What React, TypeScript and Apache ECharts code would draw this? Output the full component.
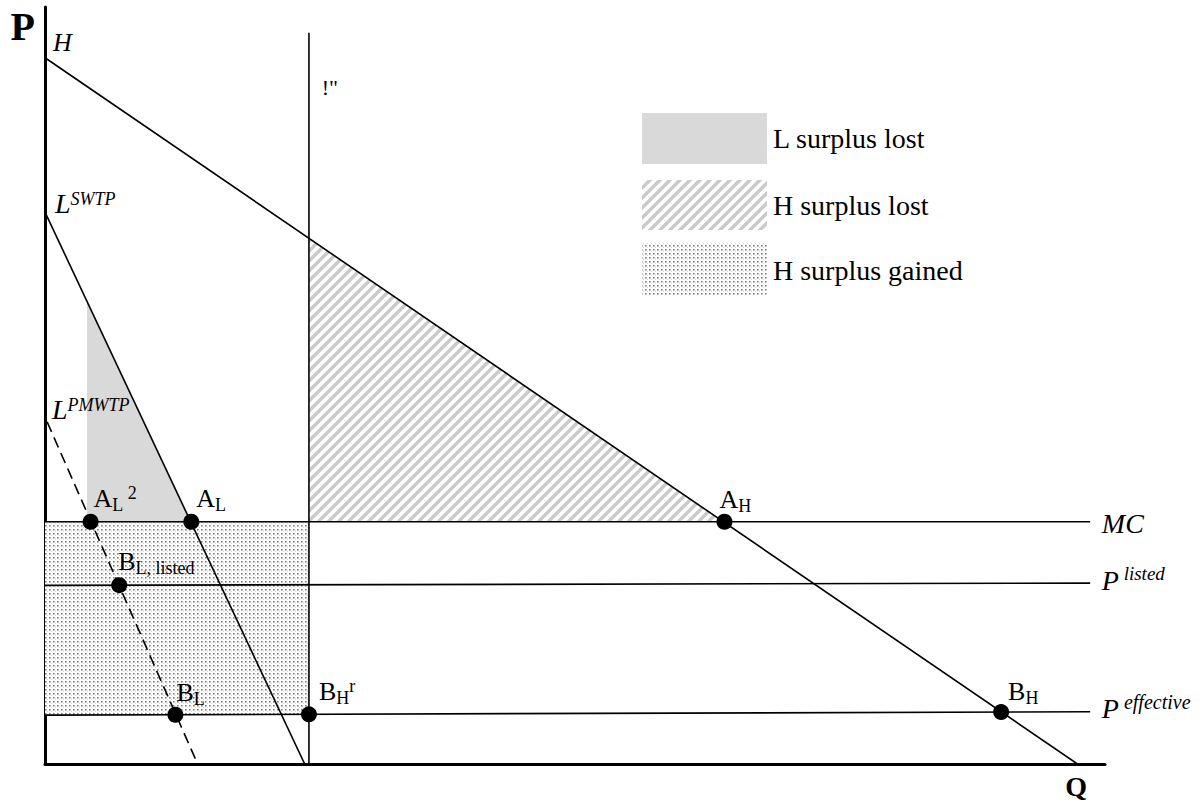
import React, { useEffect, useRef } from 'react';
import * as echarts from 'echarts';

// ---- data (Q on x axis 0..100, P on y axis 0..100) ----
const hDemand = [[0, 93.3], [97.4, 0]];
const lSwtp = [[0, 72.9], [24.5, 0]];
const lPmwtp = [[0.2, 45.2], [14.4, 0]];
const capacityLine = [[24.9, 0], [24.9, 96.6]];
const mcLine = [[0, 32.0], [98.6, 32.0]];
const listedLine = [[0, 23.6], [98.6, 23.9]];
const effectiveLine = [[0, 6.45], [98.6, 6.9]];

const lSurplusLost = [[3.96, 61.1], [3.96, 32.0], [13.8, 32.0]];
const hSurplusLost = [[24.9, 69.45], [24.9, 32.0], [64.1, 32.0]];
const hSurplusGained = [[0, 32.0], [24.9, 32.0], [24.9, 6.56], [0, 6.45]];

const pointValues = [[4.3, 32], [13.8, 32], [64.1, 32], [7.0, 23.62], [12.3, 6.5], [24.9, 6.56], [90.2, 6.86]];
const pointLabels = ['{m|A}{s|L}{p| 2}', '{m|A}{s|L}', '{m|A}{s|H}', '{m|B}{s|L, listed}', '{m|B}{s|L}', '{m|B}{s|H}{p|r}', '{m|B}{s|H}'];

const annotationTexts = ['{h|H}', '{r|!"}', '{L|L}{sup|SWTP}', '{L|L}{sup|PMWTP}', '{mc|MC}', '{P|P}{ps| listed}', '{P|P}{pe| effective}'];
const annotationAnchors = [[0.75, 95.3], [26.1, 89.3], [0.94, 74.0], [0.66, 46.8], [99.7, 31.8], [99.7, 24.3], [99.7, 7.3]];

const legendNames = ['L surplus lost', 'H surplus lost', 'H surplus gained'];

// ---- styles ----
const SERIF = 'Liberation Serif, Times New Roman, serif';
const pointLabelOffsets = [[3, 23.5], [5, 23.5], [-5, 22.5], [-1, 24], [1, 22.5], [10, 23], [7, 21]];

const base = { fontFamily: SERIF, color: '#000', verticalAlign: 'top' };
const tok = (fontSize: number, h: number, italic = false) => ({
  ...base, fontSize, height: h, lineHeight: h, fontStyle: italic ? 'italic' : 'normal',
});
const rich: any = {
  m: tok(26, 30),
  s: tok(18, 44),
  p: tok(18, 20),
  h: tok(26, 30, true),
  mc: tok(28, 30, true),
  r: tok(22, 30),
  L: tok(28, 30, true),
  sup: tok(18, 21, true),
  P: tok(28, 30, true),
  ps: tok(19, 16, true),
  pe: tok(20, 16, true),
};

function makeHatch() {
  const c = document.createElement('canvas');
  c.width = 10; c.height = 10;
  const g = c.getContext('2d')!;
  g.strokeStyle = '#cacaca';
  g.lineWidth = 3.4;
  g.beginPath();
  g.moveTo(-5, 5); g.lineTo(5, -5);
  g.moveTo(-1, 11); g.lineTo(11, -1);
  g.moveTo(5, 15); g.lineTo(15, 5);
  g.stroke();
  return c;
}

function makeDots() {
  const c = document.createElement('canvas');
  c.width = 4; c.height = 4;
  const g = c.getContext('2d')!;
  g.fillStyle = '#ffffff';
  g.fillRect(0, 0, 4, 4);
  g.fillStyle = '#7e7e7e';
  g.fillRect(1, 1, 1.6, 1.6);
  g.fillStyle = '#d6d6d6';
  g.fillRect(3, 3, 1, 1);
  return c;
}

function polygonSeries(name: string, pts: number[][], fill: any) {
  const flat: number[] = [];
  pts.forEach((p) => { flat.push(p[0], p[1]); });
  return {
    type: 'custom',
    name,
    coordinateSystem: 'cartesian2d',
    silent: true,
    clip: false,
    z: 1,
    data: [flat],
    renderItem: (_params: any, api: any) => {
      const points: number[][] = [];
      for (let i = 0; i < pts.length; i++) {
        points.push(api.coord([api.value(2 * i), api.value(2 * i + 1)]));
      }
      return { type: 'polygon', shape: { points }, style: { fill, stroke: null } };
    },
  };
}

function lineSeries(data: number[][], dashed = false) {
  return {
    type: 'line',
    data,
    symbol: 'none',
    showSymbol: false,
    silent: true,
    z: 3,
    lineStyle: { color: '#000', width: 1.6, type: dashed ? [11, 6] : 'solid' },
  };
}

export default function App() {
  const ref = useRef<HTMLDivElement>(null);
  useEffect(() => {
    if (!ref.current) return;
    const chart = echarts.init(ref.current, null, { renderer: 'svg' });
    const hatch = { image: makeHatch(), repeat: 'repeat', imageWidth: 10, imageHeight: 10 };
    const dots = { image: makeDots(), repeat: 'repeat', imageWidth: 4, imageHeight: 4 };
    const gray = '#d9d9d9';

    const axisCommon = {
      type: 'value',
      min: 0,
      max: 100,
      splitLine: { show: false },
      axisTick: { show: false },
      axisLabel: { show: false },
      axisLine: { show: true, onZero: false, lineStyle: { color: '#000', width: 3 } },
    };

    const option: any = {
      animation: false,
      backgroundColor: '#fff',
      grid: { left: 45, right: 96, top: 7, bottom: 39, containLabel: false, outerBoundsMode: 'none' },
      xAxis: {
        ...axisCommon,
        name: 'Q',
        nameLocation: 'end',
        nameGap: 0,
        nameTextStyle: { fontFamily: SERIF, fontWeight: 'bold', fontSize: 28, color: '#000', align: 'right', verticalAlign: 'top', lineHeight: 44, padding: [0, 18, 0, 0] },
      },
      yAxis: {
        ...axisCommon,
        name: 'P',
        nameLocation: 'end',
        nameGap: -19,
        nameTextStyle: { fontFamily: SERIF, fontWeight: 'bold', fontSize: 40, color: '#000', align: 'right', verticalAlign: 'middle', padding: [0, 10, 0, 0] },
      },
      graphic: [
        { type: 'rect', shape: { x: 642, y: 113, width: 125, height: 51 }, style: { fill: gray } },
        { type: 'rect', shape: { x: 642, y: 180, width: 125, height: 50 }, style: { fill: hatch } },
        { type: 'rect', shape: { x: 642, y: 243, width: 125, height: 52 }, style: { fill: dots } },
        { type: 'text', x: 773, y: 138, style: { text: legendNames[0], fontFamily: SERIF, fontSize: 28, fill: '#000', verticalAlign: 'middle' } },
        { type: 'text', x: 773, y: 205, style: { text: legendNames[1], fontFamily: SERIF, fontSize: 28, fill: '#000', verticalAlign: 'middle' } },
        { type: 'text', x: 773, y: 270, style: { text: legendNames[2], fontFamily: SERIF, fontSize: 28, fill: '#000', verticalAlign: 'middle' } },
      ],
      series: [
        polygonSeries(legendNames[0], lSurplusLost, gray),
        polygonSeries(legendNames[1], hSurplusLost, hatch),
        polygonSeries(legendNames[2], hSurplusGained, dots),
        lineSeries(hDemand),
        lineSeries(lSwtp),
        lineSeries(lPmwtp, true),
        lineSeries(capacityLine),
        lineSeries(mcLine),
        lineSeries(listedLine),
        lineSeries(effectiveLine),
        {
          type: 'scatter',
          silent: true,
          clip: false,
          z: 5,
          symbolSize: 16,
          itemStyle: { color: '#000', opacity: 1 },
          data: pointValues.map((v, i) => ({
            value: v,
            label: {
              show: true,
              formatter: pointLabels[i],
              position: [8 + pointLabelOffsets[i][0], 8 - pointLabelOffsets[i][1] - 15],
              align: 'left',
              verticalAlign: 'top',
              rich,
            },
          })),
        },
        {
          type: 'scatter',
          silent: true,
          clip: false,
          z: 6,
          symbolSize: 0,
          itemStyle: { color: 'transparent', opacity: 1 },
          data: annotationAnchors.map((v, i) => ({
            value: v,
            label: {
              show: true,
              formatter: annotationTexts[i],
              position: [0, -15],
              align: 'left',
              verticalAlign: 'top',
              rich,
            },
          })),
        },
      ],
    };
    chart.setOption(option);
    return () => chart.dispose();
  }, []);
  return <div ref={ref} style={{ position: 'absolute', left: 0, top: 0, width: 1201, height: 803, background: '#fff' }} />;
}
